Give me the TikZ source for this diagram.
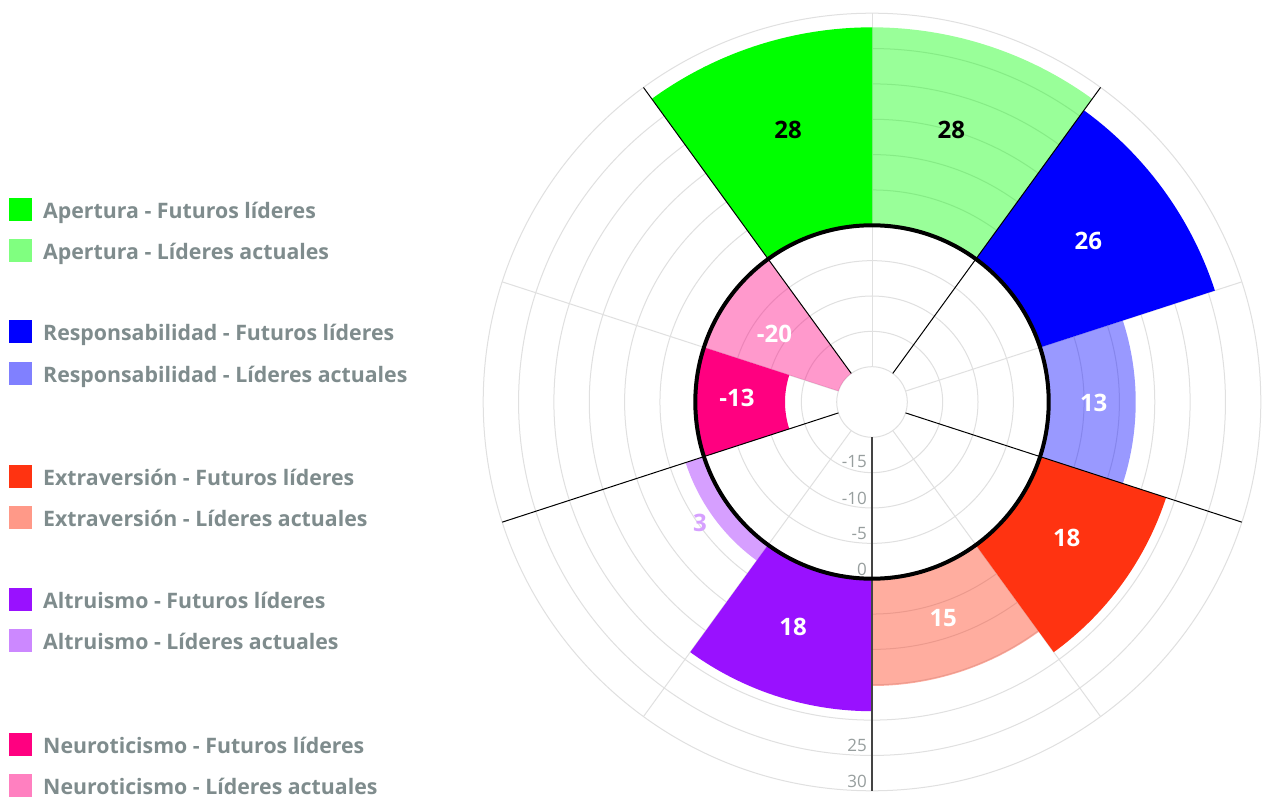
\documentclass[tikz,border=0pt]{standalone}
\usepackage{fontspec}
\setmainfont{Open Sans}
\definecolor{gridc}{HTML}{E0E0E0}
\definecolor{legtxt}{HTML}{7F8C8D}
\definecolor{tickc}{HTML}{979E9E}
\definecolor{axisc}{HTML}{444444}
\definecolor{cApF}{HTML}{00FF00}
\definecolor{cReF}{HTML}{0000FF}
\definecolor{cExF}{HTML}{FF3311}
\definecolor{cAlF}{HTML}{9911FF}
\definecolor{cNeF}{HTML}{FF0080}
\definecolor{lApA}{HTML}{80FF80}
\definecolor{lReA}{HTML}{8080FF}
\definecolor{lExA}{HTML}{FF9988}
\definecolor{lAlA}{HTML}{CC88FF}
\definecolor{lNeA}{HTML}{FF80C0}
\tikzset{
  legsq/.style={minimum size=23pt, inner sep=0pt, draw=none},
  legtext/.style={anchor=base west, inner sep=0pt, text=legtxt, font=\fontsize{21.3}{25}\selectfont\bfseries},
  barlab/.style={inner sep=0pt, font=\fontsize{24}{28}\selectfont\bfseries},
  ticklab/.style={anchor=east, inner sep=0pt, text=tickc, font=\fontsize{17}{20}\selectfont},
  gridline/.style={draw=gridc, line width=1pt},
  sepline/.style={draw=black, line width=1pt},
  actual/.style={fill opacity=0.4},
}
\newcommand{\polarbar}[5]{%
  \fill[#1] (#2:#4pt) arc[start angle=#2, end angle=#3, radius=#4pt] -- (#3:#5pt) arc[start angle=#3, end angle=#2, radius=#5pt] -- cycle;}
\begin{document}
\begin{tikzpicture}[x=1pt,y=1pt]
\fill[white] (0,0) rectangle (1263,796);
\useasboundingbox (0,0) rectangle (1263,796);
\begin{scope}[shift={(872,394)}]
  % grid circles
  \foreach \r in {35.3,70.65,106,141.35,176.7,212.05,247.4,282.75,318.1,353.45,388.8}
    \draw[gridline] (0,0) circle[radius=\r pt];
  \foreach \a in {90,18,-54,-126,162}
    \draw[gridline] (\a:35.3pt) -- (\a:388.8pt);
  % bars
  \polarbar{cApF}{90}{126}{176.7}{374.66}
  \polarbar{cApF,actual}{54}{90}{176.7}{374.66}
  \polarbar{cReF}{18}{54}{176.7}{360.52}
  \polarbar{cReF,actual}{-18}{18}{176.7}{263.7}
  \polarbar{cExF}{-54}{-18}{176.7}{309.2}
  \polarbar{cExF,actual}{-90}{-54}{176.7}{284}
  \polarbar{cAlF}{-126}{-90}{176.7}{309.2}
  \polarbar{cAlF,actual}{-162}{-126}{176.7}{196}
  \polarbar{cNeF}{162}{198}{87}{176.7}
  \polarbar{cNeF,actual}{126}{162}{35.3}{176.7}
  % separator lines
  \foreach \a in {126,54,-18,198}
    \draw[sepline] (\a:35.3pt) -- (\a:388.8pt);
  \draw[draw=axisc, line width=1.2pt] (-90:35.3pt) -- (-90:388.8pt);
  \draw[black, line width=4pt] (0,0) circle[radius=176.7pt];
\end{scope}
% radial tick labels
\node[ticklab] (t15) at (867,334) {-15};
\node[ticklab] (t10) at (867,298) {-10};
\node[ticklab] (t5) at (867,262) {-5};
\node[ticklab] (t0) at (867,227) {0};
\node[ticklab] (t25) at (867,50.5) {25};
\node[ticklab] (t30) at (867,14.5) {30};
% bar labels
\node[barlab, text=black] (l1) at (788,666.5) {28};
\node[barlab, text=black] (l2) at (951.3,666.5) {28};
\node[barlab, text=white] (l3) at (1088.3,555.2) {26};
\node[barlab, text=white] (l4) at (1093.7,393.5) {13};
\node[barlab, text=white] (l5) at (1066.7,258.5) {18};
\node[barlab, text=white] (l6) at (943.2,177.7) {15};
\node[barlab, text=white] (l7) at (793,169.5) {18};
\node[barlab, text=cAlF!40!white] (l8) at (700,273) {3};
\node[barlab, text=white] (l9) at (737,398) {-13};
\node[barlab, text=white] (l10) at (774.5,462) {-20};
% legend
\node[legsq, fill=cApF] (s1) at (20.5,586.5) {};
\node[legtext] (g1) at (43,577.5) {Apertura - Futuros líderes};
\node[legsq, fill=lApA] (s2) at (20.5,545.5) {};
\node[legtext] (g2) at (43,536.5) {Apertura - Líderes actuales};
\node[legsq, fill=cReF] (s3) at (20.5,464.5) {};
\node[legtext] (g3) at (43,455.5) {Responsabilidad - Futuros líderes};
\node[legsq, fill=lReA] (s4) at (20.5,422.5) {};
\node[legtext] (g4) at (43,413.5) {Responsabilidad - Líderes actuales};
\node[legsq, fill=cExF] (s5) at (20.5,319.5) {};
\node[legtext] (g5) at (43,310.5) {Extraversión - Futuros líderes};
\node[legsq, fill=lExA] (s6) at (20.5,278.5) {};
\node[legtext] (g6) at (43,269.5) {Extraversión - Líderes actuales};
\node[legsq, fill=cAlF] (s7) at (20.5,196.5) {};
\node[legtext] (g7) at (43,187.5) {Altruismo - Futuros líderes};
\node[legsq, fill=lAlA] (s8) at (20.5,155.5) {};
\node[legtext] (g8) at (43,146.5) {Altruismo - Líderes actuales};
\node[legsq, fill=cNeF] (s9) at (20.5,51.5) {};
\node[legtext] (g9) at (43,42.5) {Neuroticismo - Futuros líderes};
\node[legsq, fill=lNeA] (s10) at (20.5,10.5) {};
\node[legtext] (g10) at (43,1.5) {Neuroticismo - Líderes actuales};
\end{tikzpicture}
\end{document}
